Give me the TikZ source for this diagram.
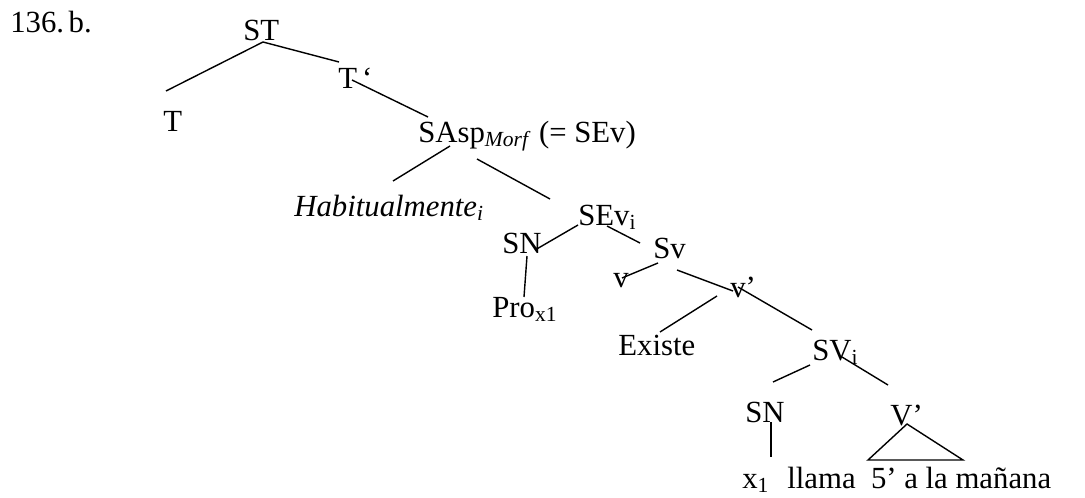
\documentclass[tikz,border=0pt]{standalone}
\usepackage{fontspec}
\setmainfont{Liberation Serif}
\usetikzlibrary{positioning}

\begin{document}
\begin{tikzpicture}[x=0.02cm, y=-0.02cm, cat/.style={anchor=base west, inner sep=0pt, font=\fontsize{17.5}{20}\selectfont}, branch/.style={draw, line width=0.8pt}]
\useasboundingbox (0,0) rectangle (1085,497);
% labels of the tree
\node[cat] (lbl) at (10,32) {136.\hspace{0.15em}b.};
\node[cat] (st) at (243,40) {ST};
\node[cat] (t) at (163,131) {T};
\node[cat] (tbar) at (338,88) {T\,‘};
\node[cat] (sasp) at (418,142) {SAsp\textsubscript{\textit{Morf}}\ (= SEv)};
\node[cat] (hab) at (294,216) {\textit{Habitualmente\textsubscript{i}}};
\node[cat] (sev) at (578,225) {SEv\textsubscript{i}};
\node[cat] (sna) at (502,253) {SN};
\node[cat] (pro) at (492,317) {Pro\textsubscript{x1}};
\node[cat] (sv) at (653,258) {Sv};
\node[cat] (vlow) at (613,287) {v};
\node[cat] (vbar) at (730,297) {v’};
\node[cat] (existe) at (618,355) {Existe};
\node[cat] (svi) at (812,360) {SV\textsubscript{i}};
\node[cat] (snb) at (745,422) {SN};
\node[cat] (vp) at (890,425) {V’};
\node[cat] (xone) at (742,488) {x\textsubscript{1}};
\node[cat] (yield) at (787,488) {llama\ \ 5’ a la mañana};
% branches
\draw[branch] ([shift={(20,2)}]st.base west) -- ([shift={(3,-40)}]t.base west);
\draw[branch] ([shift={(20,2)}]st.base west) -- ([shift={(1,-26)}]tbar.base west);
\draw[branch] ([shift={(14,-8)}]tbar.base west) -- ([shift={(10,-25)}]sasp.base west);
\draw[branch] ([shift={(32,4)}]sasp.base west) -- ([shift={(99,-35)}]hab.base west);
\draw[branch] ([shift={(59,17)}]sasp.base west) -- ([shift={(-28,-26)}]sev.base west);
\draw[branch] ([shift={(0,0)}]sev.base west) -- ([shift={(33,-3)}]sna.base west);
\draw[branch] ([shift={(29,1)}]sev.base west) -- ([shift={(-13,-15)}]sv.base west);
\draw[branch] ([shift={(25,3)}]sna.base west) -- ([shift={(32,-20)}]pro.base west);
\draw[branch] ([shift={(5,5)}]sv.base west) -- ([shift={(9,-9)}]vlow.base west);
\draw[branch] ([shift={(24,12)}]sv.base west) -- ([shift={(3,-6)}]vbar.base west);
\draw[branch] ([shift={(-13,-1)}]vbar.base west) -- ([shift={(42,-23)}]existe.base west);
\draw[branch] ([shift={(8,-10)}]vbar.base west) -- ([shift={(0,-30)}]svi.base west);
\draw[branch] ([shift={(-2,5)}]svi.base west) -- ([shift={(28,-40)}]snb.base west);
\draw[branch] ([shift={(30,-3)}]svi.base west) -- ([shift={(-2,-40)}]vp.base west);
\draw[branch] ([shift={(26,0)}]snb.base west) -- ([shift={(29,-31)}]xone.base west);
\draw[branch] ([shift={(17,-1)}]vp.base west) -- ([shift={(81,-28)}]yield.base west) -- ([shift={(176,-28)}]yield.base west) -- cycle;
\end{tikzpicture}
\end{document}
